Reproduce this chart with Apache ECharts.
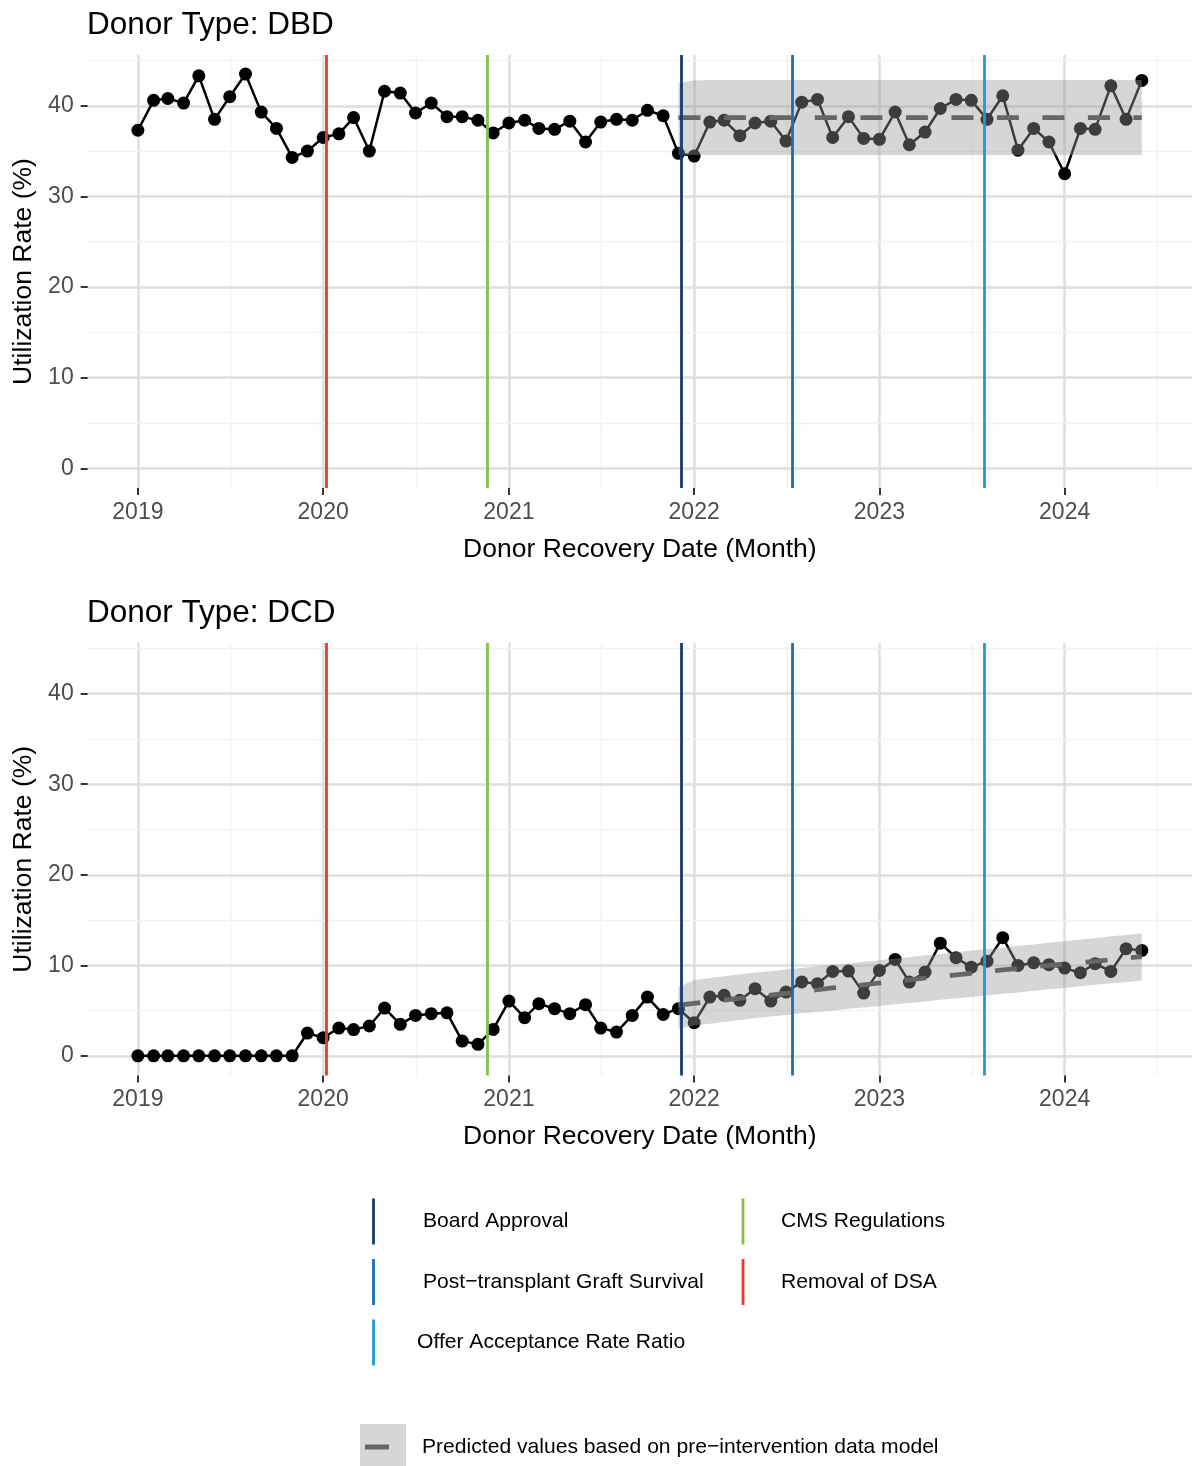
<!DOCTYPE html>
<html><head><meta charset="utf-8">
<script src="https://cdn.jsdelivr.net/npm/echarts@6/dist/echarts.min.js"></script>
<style>html,body{margin:0;padding:0;background:#fff}#c{width:1192px;height:1466px}</style>
</head><body><div id="c"></div>
<script>
// ---------------- data ----------------
const firstMonth = '2019-01';
const monthCount = 66; // Jan 2019 .. Jun 2024
const dbdRate = [37.3, 40.6, 40.8, 40.3, 43.3, 38.5, 41.0, 43.5, 39.3, 37.5,
  34.3, 35.0, 36.5, 36.9, 38.7, 35.0, 41.6, 41.4, 39.2, 40.3,
  38.8, 38.8, 38.4, 37.0, 38.1, 38.4, 37.5, 37.4, 38.3, 36.0,
  38.2, 38.5, 38.4, 39.5, 38.9, 34.75, 34.45, 38.2, 38.4, 36.7,
  38.1, 38.3, 36.1, 40.4, 40.7, 36.5, 38.8, 36.4, 36.3, 39.3,
  35.7, 37.1, 39.7, 40.7, 40.6, 38.5, 41.1, 35.1, 37.5, 36.0,
  32.5, 37.5, 37.4, 42.2, 38.5, 42.8];
const dcdRate = [0, 0, 0, 0, 0, 0, 0, 0, 0, 0,
  0, 2.52, 2.0, 3.07, 2.9, 3.3, 5.28, 3.48, 4.47, 4.66,
  4.75, 1.63, 1.27, 2.92, 6.05, 4.22, 5.76, 5.21, 4.66, 5.65,
  3.07, 2.63, 4.47, 6.49, 4.58, 5.21, 3.66, 6.49, 6.68, 6.13,
  7.42, 6.05, 7.04, 8.17, 7.97, 9.33, 9.36, 6.93, 9.44, 10.65,
  8.15, 9.25, 12.45, 10.84, 9.8, 10.46, 13.05, 9.99, 10.29, 10.07,
  9.69, 9.18, 10.18, 9.33, 11.83, 11.64];
const predStartIndex = 35; // Dec 2021
const dbdPred = [38.7, 38.7, 38.7, 38.7, 38.7, 38.7, 38.7, 38.7, 38.7, 38.7,
  38.7, 38.7, 38.7, 38.7, 38.7, 38.7, 38.7, 38.7, 38.7, 38.7,
  38.7, 38.7, 38.7, 38.7, 38.7, 38.7, 38.7, 38.7, 38.7, 38.7, 38.7];
const dbdPredUpper = [42.47, 42.78, 42.83, 42.83, 42.83, 42.83, 42.83, 42.83, 42.83, 42.83,
  42.83, 42.83, 42.83, 42.83, 42.83, 42.83, 42.83, 42.83, 42.83, 42.83,
  42.83, 42.83, 42.83, 42.83, 42.83, 42.83, 42.83, 42.83, 42.83, 42.83, 42.83];
const dbdPredLower = [34.56, 34.56, 34.56, 34.56, 34.56, 34.56, 34.56, 34.56, 34.56, 34.56,
  34.56, 34.56, 34.56, 34.56, 34.56, 34.56, 34.56, 34.56, 34.56, 34.56,
  34.56, 34.56, 34.56, 34.56, 34.56, 34.56, 34.56, 34.56, 34.56, 34.56, 34.56];
const dcdPred = [5.6, 5.8, 6.0, 6.15, 6.35, 6.55, 6.7, 6.9, 7.1, 7.3,
  7.5, 7.65, 7.85, 8.05, 8.2, 8.4, 8.6, 8.75, 8.95, 9.1,
  9.3, 9.5, 9.65, 9.85, 10.0, 10.15, 10.3, 10.45, 10.6, 10.8, 10.95];
const dcdPredUpper = [7.6, 8.35, 8.6, 8.8, 9.0, 9.2, 9.35, 9.55, 9.7, 9.9,
  10.05, 10.2, 10.4, 10.55, 10.75, 10.9, 11.1, 11.25, 11.45, 11.6,
  11.8, 11.95, 12.15, 12.3, 12.5, 12.65, 12.85, 13.0, 13.2, 13.35, 13.55];
const dcdPredLower = [3.0, 3.35, 3.55, 3.75, 3.95, 4.15, 4.35, 4.5, 4.7, 4.85,
  5.0, 5.2, 5.35, 5.5, 5.7, 5.85, 6.0, 6.2, 6.35, 6.5,
  6.7, 6.85, 7.0, 7.2, 7.35, 7.5, 7.7, 7.85, 8.0, 8.15, 8.3];
const eventNames = ['Board Approval', 'CMS Regulations', 'Post\u2212transplant Graft Survival', 'Removal of DSA', 'Offer Acceptance Rate Ratio'];
const eventDates = ['2021-12-06', '2020-11-20', '2022-07-14', '2020-01-07', '2023-07-27'];
const eventColors = ['#133e6b', '#84c246', '#1a6fb3', '#ec3b2b', '#1f9ad6'];
const yearTickLabels = [2019, 2020, 2021, 2022, 2023, 2024];
const yTickValues = [0, 10, 20, 30, 40];
const yMinorValues = [5, 15, 25, 35, 45];
const panelTitles = ['Donor Type: DBD', 'Donor Type: DCD'];
const predLabel = 'Predicted values based on pre\u2212intervention data model';

// ---------------- helpers ----------------
const FONT = '"Liberation Sans", Arial, Helvetica, sans-serif';
function utc(s) { const p = s.split('-').map(Number); return Date.UTC(p[0], p[1] - 1, p[2] || 1); }
const m0 = firstMonth.split('-').map(Number);
const monthTs = [];
for (let i = 0; i < monthCount; i++) monthTs.push(Date.UTC(m0[0], m0[1] - 1 + i, 1));
const span = monthTs[monthCount - 1] - monthTs[0];
const xMin = monthTs[0] - 0.05 * span, xMax = monthTs[monthCount - 1] + 0.05 * span;
const yearTs = yearTickLabels.map(y => Date.UTC(y, 0, 1));
const midYearTs = yearTickLabels.map(y => (Date.UTC(y, 0, 1) + Date.UTC(y + 1, 0, 1)) / 2);
const yMin = -2.17, yMax = 45.6;

const grids = [
  { left: 87.7, top: 55, width: 1105.9, height: 433 },
  { left: 87.7, top: 643, width: 1105.9, height: 432.5 }
];

function xAxisFor(i) {
  return {
    type: 'value', gridIndex: i, min: xMin, max: xMax,
    axisLine: { show: false, onZero: false }, splitLine: { show: false },
    axisTick: { show: true, customValues: yearTs, length: 7, lineStyle: { color: '#333', width: 2 } },
    axisLabel: { customValues: yearTs, formatter: v => String(new Date(v).getUTCFullYear()),
      fontSize: 23, color: '#4d4d4d', margin: 13, fontFamily: FONT },
    name: 'Donor Recovery Date (Month)', nameLocation: 'middle', nameGap: 48,
    nameTextStyle: { fontSize: 26.5, color: '#000', fontFamily: FONT }
  };
}
function yAxisFor(i) {
  return {
    type: 'value', gridIndex: i, min: yMin, max: yMax,
    axisLine: { show: false, onZero: false }, splitLine: { show: false },
    axisTick: { show: true, customValues: yTickValues, length: 7, lineStyle: { color: '#333', width: 2 } },
    axisLabel: { customValues: yTickValues, fontSize: 23, color: '#4d4d4d', margin: 14, fontFamily: FONT },
    name: 'Utilization Rate (%)', nameLocation: 'middle', nameGap: 50, nameRotate: 90,
    nameTextStyle: { fontSize: 26.5, color: '#000', fontFamily: FONT }
  };
}

function gridSeries(i) {
  const d = [];
  yearTs.forEach(t => d.push({ xAxis: t, lineStyle: { color: '#dedede', width: 2.5, type: 'solid' } }));
  midYearTs.forEach(t => d.push({ xAxis: t, lineStyle: { color: '#f1f1f1', width: 1.3, type: 'solid' } }));
  yTickValues.forEach(v => d.push({ yAxis: v, lineStyle: { color: '#dedede', width: 2.5, type: 'solid' } }));
  yMinorValues.forEach(v => d.push({ yAxis: v, lineStyle: { color: '#f1f1f1', width: 1.3, type: 'solid' } }));
  return {
    type: 'line', xAxisIndex: i, yAxisIndex: i, data: [], silent: true, z: 0,
    markLine: { z: 0, silent: true, symbol: ['none', 'none'], label: { show: false }, animation: false, data: d }
  };
}
function eventSeries(i) {
  return {
    type: 'line', xAxisIndex: i, yAxisIndex: i, data: [], silent: true, z: 6,
    markLine: { z: 6, silent: true, symbol: ['none', 'none'], label: { show: false }, animation: false,
      data: eventDates.map((d, k) => ({ xAxis: utc(d), lineStyle: { color: eventColors[k], width: 2.8, type: 'solid' } })) }
  };
}
function dataSeries(i, vals) {
  return {
    type: 'line', xAxisIndex: i, yAxisIndex: i, z: 2, silent: true,
    data: vals.map((v, k) => [monthTs[k], v]),
    symbol: 'circle', symbolSize: 13, showAllSymbol: true,
    itemStyle: { color: '#000' }, lineStyle: { color: '#000', width: 2.5 }
  };
}
function bandSeries(i, lower, upper) {
  const pts = lower.map((v, k) => [monthTs[predStartIndex + k], v, upper[k]]);
  return {
    type: 'custom', xAxisIndex: i, yAxisIndex: i, z: 3, silent: true,
    data: pts,
    renderItem: function (params, api) {
      if (params.dataIndex !== 0) return null;
      const poly = [];
      pts.forEach(p => poly.push(api.coord([p[0], p[2]])));
      for (let k = pts.length - 1; k >= 0; k--) poly.push(api.coord([pts[k][0], pts[k][1]]));
      return { type: 'polygon', shape: { points: poly }, style: { fill: 'rgba(153,153,153,0.4)', stroke: null } };
    }
  };
}
function predSeries(i, vals) {
  return {
    type: 'line', xAxisIndex: i, yAxisIndex: i, z: 4, silent: true,
    data: vals.map((v, k) => [monthTs[predStartIndex + k], v]),
    symbol: 'none', lineStyle: { color: '#666', width: 4.7, type: [22, 23.5], cap: 'butt' }
  };
}

// legend graphics
const legendGfx = [];
const legX = [373.5, 743, 373.5, 743, 373.5];
const legTextX = [423, 781, 423, 781, 417];
const legY = [1221.5, 1221.5, 1282, 1282, 1342.5];
const LEGFS = 21.1;
eventNames.forEach((n, k) => {
  legendGfx.push({ type: 'line', silent: true, shape: { x1: legX[k], y1: legY[k] - 23, x2: legX[k], y2: legY[k] + 23 },
    style: { stroke: eventColors[k], lineWidth: 2.8 } });
  legendGfx.push({ type: 'text', silent: true, x: legTextX[k], y: legY[k],
    style: { text: n, fill: '#000', fontSize: LEGFS, fontFamily: FONT, verticalAlign: 'middle', align: 'left' } });
});
legendGfx.push({ type: 'rect', silent: true, shape: { x: 360, y: 1424, width: 46, height: 42 }, style: { fill: '#d6d6d6' } });
legendGfx.push({ type: 'line', silent: true, shape: { x1: 365, y1: 1447, x2: 389, y2: 1447 }, style: { stroke: '#666', lineWidth: 5 } });
legendGfx.push({ type: 'text', silent: true, x: 422, y: 1447.5,
  style: { text: predLabel, fill: '#000', fontSize: LEGFS, fontFamily: FONT, verticalAlign: 'middle', align: 'left' } });

const option = {
  animation: false,
  backgroundColor: '#fff',
  textStyle: { fontFamily: FONT },
  title: [
    { text: panelTitles[0], left: 87, top: 9, padding: 0, textStyle: { fontSize: 31.5, fontWeight: 'normal', color: '#000', fontFamily: FONT } },
    { text: panelTitles[1], left: 87, top: 597, padding: 0, textStyle: { fontSize: 31.5, fontWeight: 'normal', color: '#000', fontFamily: FONT } }
  ],
  grid: grids,
  xAxis: [xAxisFor(0), xAxisFor(1)],
  yAxis: [yAxisFor(0), yAxisFor(1)],
  series: [
    gridSeries(0), dataSeries(0, dbdRate), bandSeries(0, dbdPredLower, dbdPredUpper), predSeries(0, dbdPred), eventSeries(0),
    gridSeries(1), dataSeries(1, dcdRate), bandSeries(1, dcdPredLower, dcdPredUpper), predSeries(1, dcdPred), eventSeries(1)
  ],
  graphic: legendGfx
};
const chart = echarts.init(document.getElementById('c'), null, { renderer: 'canvas' });
chart.setOption(option);
</script></body></html>
